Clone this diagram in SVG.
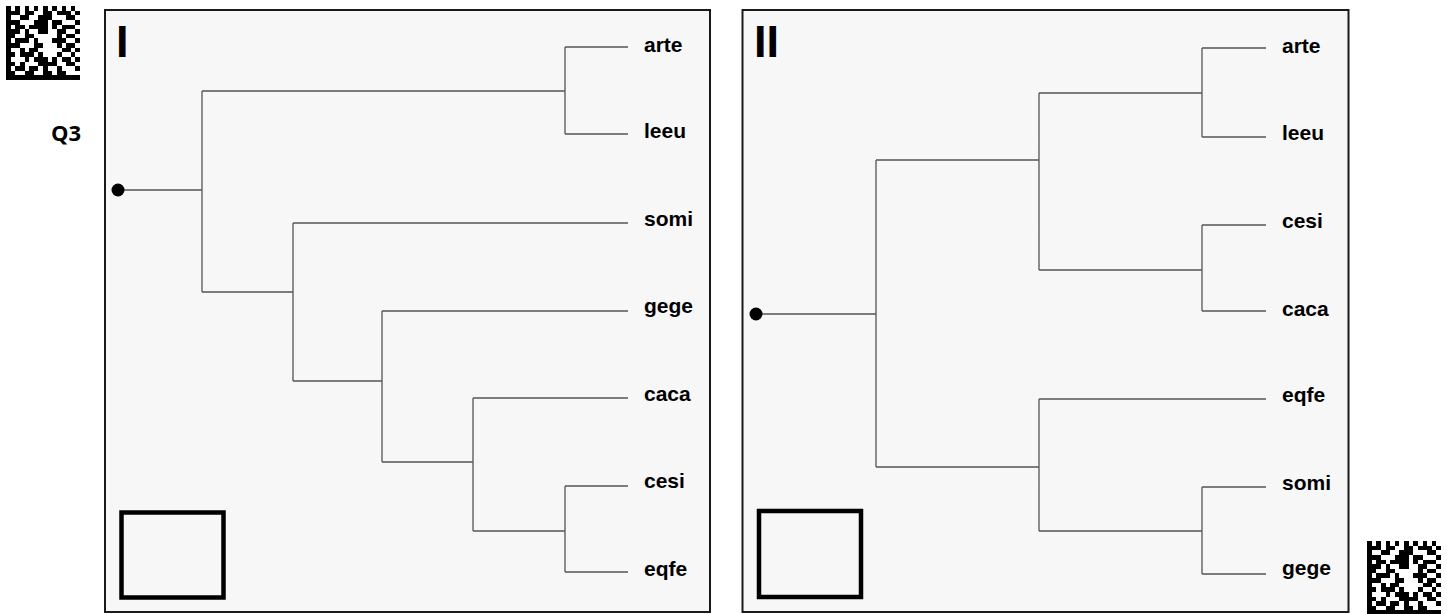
<svg xmlns="http://www.w3.org/2000/svg" xmlns:xlink="http://www.w3.org/1999/xlink" width="1447" height="614" viewBox="0 0 1447 614">
<style>
.panel{fill:#f7f7f7;stroke:#1a1a1a;stroke-width:2}
.box{fill:none;stroke:#000;stroke-width:4.5}
.br{fill:none;stroke:#555;stroke-width:1.3}
.lbl{font-family:"Liberation Sans",Arial,sans-serif;font-weight:bold;font-size:21px;fill:#000;dominant-baseline:middle}
.num{font-family:"Liberation Sans",Arial,sans-serif;font-weight:bold;font-size:45px;fill:#000}
.q{font-family:"Open Sans","Liberation Sans",sans-serif;font-weight:bold;font-size:22px;fill:#000}
</style>
<defs>
<path id="dm" fill="#000" d="M0 0h1v1h-1zM2 0h1v1h-1zM4 0h1v1h-1zM6 0h1v1h-1zM8 0h1v1h-1zM10 0h1v1h-1zM12 0h1v1h-1zM14 0h1v1h-1z
M0 1h3v1h-3zM4 1h2v1h-2zM8 1h2v1h-2zM11 1h3v1h-3zM15 1h1v1h-1z
M0 2h1v1h-1zM3 2h2v1h-2zM7 2h3v1h-3zM13 2h2v1h-2z
M0 3h3v1h-3zM6 3h3v1h-3zM10 3h2v1h-2zM15 3h1v1h-1z
M0 4h1v1h-1zM2 4h2v1h-2zM5 4h4v1h-4zM10 4h1v1h-1zM12 4h3v1h-3z
M0 5h3v1h-3zM4 5h1v1h-1zM7 5h2v1h-2zM11 5h2v1h-2zM15 5h1v1h-1z
M0 6h2v1h-2zM4 6h2v1h-2zM11 6h1v1h-1zM13 6h2v1h-2z
M0 7h1v1h-1zM2 7h3v1h-3zM6 7h1v1h-1zM10 7h3v1h-3zM15 7h1v1h-1z
M0 8h3v1h-3zM6 8h2v1h-2zM11 8h1v1h-1zM13 8h2v1h-2z
M0 9h1v1h-1zM3 9h1v1h-1zM5 9h2v1h-2zM12 9h2v1h-2zM15 9h1v1h-1z
M0 10h2v1h-2zM3 10h3v1h-3zM7 10h1v1h-1zM11 10h1v1h-1zM14 10h1v1h-1z
M0 11h1v1h-1zM4 11h1v1h-1zM6 11h3v1h-3zM10 11h1v1h-1zM12 11h2v1h-2zM15 11h1v1h-1z
M0 12h2v1h-2zM3 12h1v1h-1zM7 12h4v1h-4zM13 12h2v1h-2z
M0 13h1v1h-1zM2 13h2v1h-2zM5 13h2v1h-2zM8 13h1v1h-1zM11 13h1v1h-1zM15 13h1v1h-1z
M0 14h2v1h-2zM4 14h2v1h-2zM8 14h2v1h-2zM11 14h2v1h-2z
M0 15h16v1h-16z"/>
</defs>
<rect width="1447" height="614" fill="#fff"/>
<g id="code1" transform="translate(6,6) scale(4.625)" shape-rendering="crispEdges"><use xlink:href="#dm" href="#dm"/></g>
<g id="code2" transform="translate(1367,541) scale(4.625)" shape-rendering="crispEdges"><use xlink:href="#dm" href="#dm"/></g>
<text class="q" x="51" y="141">Q3</text>

<g id="panel1">
<rect class="panel" x="105" y="10" width="605" height="602"/>
<text class="num" x="116" y="57">I</text>
<rect class="box" x="121.5" y="512.5" width="102" height="85"/>
</g>
<g id="panel2">
<rect class="panel" x="742.5" y="10" width="606" height="602"/>
<text class="num" x="754" y="57">II</text>
<rect class="box" x="759" y="511" width="102" height="86"/>
</g>

<g id="connectors">
<path class="br" d="M118 190H202M202 91V292M202 91H565M565 47V134M565 47H628M565 134H628
M202 292H293M293 223V381M293 223H628M293 381H382M382 311V462M382 311H628M382 462H473M473 398V531M473 398H628M473 531H565M565 486V572M565 486H628M565 572H628"/>
<path class="br" d="M756 314H876M876 160V467M876 160H1039M1039 93V270M1039 93H1202M1202 48V137M1202 48H1266M1202 137H1266M1039 270H1202M1202 225V311M1202 225H1266M1202 311H1266
M876 467H1039M1039 399V531M1039 399H1266M1039 531H1202M1202 487V574M1202 487H1266M1202 574H1266"/>
</g>

<g id="root1"><circle cx="118" cy="190" r="6.5" fill="#000"/></g>
<g id="root2"><circle cx="756" cy="314" r="6.5" fill="#000"/></g>

<g id="leaves1">
<text class="lbl" x="644" y="46">arte</text>
<text class="lbl" x="644" y="132">leeu</text>
<text class="lbl" x="644" y="220">somi</text>
<text class="lbl" x="644" y="307">gege</text>
<text class="lbl" x="644" y="395">caca</text>
<text class="lbl" x="644" y="482">cesi</text>
<text class="lbl" x="644" y="570">eqfe</text>
</g>
<g id="leaves2">
<text class="lbl" x="1282" y="47">arte</text>
<text class="lbl" x="1282" y="134">leeu</text>
<text class="lbl" x="1282" y="222">cesi</text>
<text class="lbl" x="1282" y="310">caca</text>
<text class="lbl" x="1282" y="396">eqfe</text>
<text class="lbl" x="1282" y="484">somi</text>
<text class="lbl" x="1282" y="569">gege</text>
</g>
</svg>
